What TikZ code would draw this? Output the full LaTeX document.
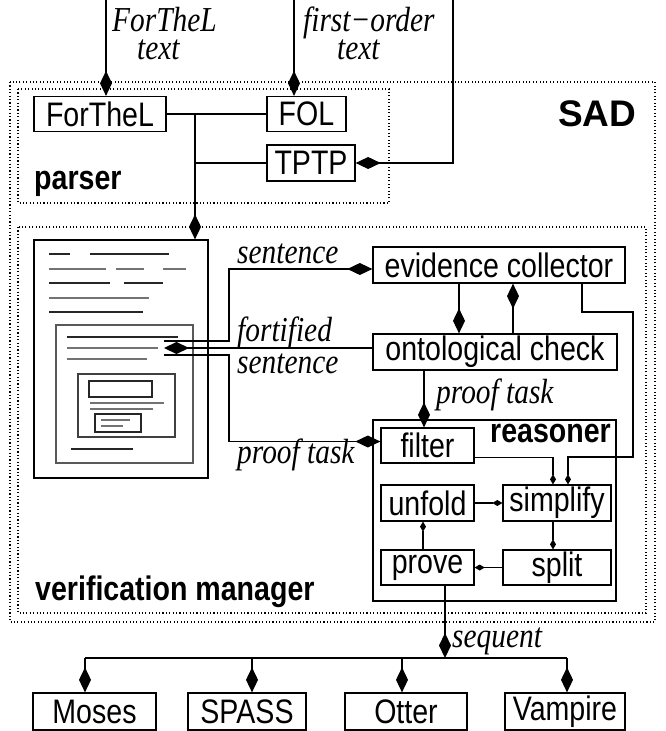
\documentclass[tikz,border=0pt]{standalone}
\usepackage{fontspec}
\setmainfont{Liberation Serif}
\newfontfamily\lsans{Liberation Sans}[FakeStretch=0.84]
\newfontfamily\lsanswide{Liberation Sans}
\newfontfamily\lserif{Liberation Serif}[FakeStretch=0.84]
\usetikzlibrary{arrows.meta,calc}
\tikzset{
  box/.style={draw, line width=1.3pt, inner sep=0pt, font=\lsans\fontsize{34}{36}\selectfont},
  frame/.style={draw, line width=1.3pt, inner sep=0pt},
  conn/.style={line width=1.5pt},
  thinconn/.style={line width=1.1pt},
  bigd/.style={-{Kite[length=25pt,width=12pt,inset=12.5pt]}},
  smalld/.style={-{Kite[length=10pt,width=6pt,inset=5pt]}},
  lbl/.style={font=\lserif\itshape\fontsize{35}{37}\selectfont, inner sep=0pt, anchor=base west},
  twolbl/.style={font=\lserif\itshape\fontsize{35}{28}\selectfont, inner sep=0pt, align=left, anchor=north west},
  blbl/.style={font=\lsans\bfseries\fontsize{34}{36}\selectfont, inner sep=0pt, anchor=base west},
  dotbox/.style={line width=1.1pt, dash pattern=on 1.1pt off 2.3pt},
  dkl/.style={line width=1.1pt, black!85},
  ltl/.style={line width=1.1pt, black!55},
}
\begin{document}
\begin{tikzpicture}[x=1pt,y=-1pt]
\useasboundingbox (0,0) rectangle (665,731);

% dotted containers
\draw[dotbox] (10,82) rectangle (655,622);
\draw[dotbox] (18,89) rectangle (389,203);
\draw[dotbox] (18,227) rectangle (646,613);

% labels
\node[twolbl] (l1) at (112,7) {ForTheL\\\hspace*{25pt}text};
\node[twolbl] (l3) at (303,7) {first−order\\\hspace*{34pt}text};
\node[blbl, font=\lsanswide\bfseries\fontsize{37}{39}\selectfont] (sad) at (558,126) {SAD};
\node[blbl] (parserlbl) at (34,189) {parser};
\node[blbl] (vmlbl) at (35,600) {verification manager};
\node[blbl] (reaslbl) at (490,442) {reasoner};
\node[lbl] (s1) at (237,263) {sentence};
\node[lbl] (s2) at (237,341) {fortified};
\node[lbl] (s3) at (237,373) {sentence};
\node[lbl] (s4) at (237,463) {proof task};
\node[lbl] (s5) at (436,403) {proof task};
\node[lbl] (s6) at (452,647) {sequent};

% parser nodes
\node[box, minimum width=132pt, minimum height=35pt] (forthel) at (100,114) {ForTheL};
\node[box, minimum width=79pt, minimum height=35pt] (fol) at (306.5,114) {FOL};
\node[box, minimum width=88pt, minimum height=36pt] (tptp) at (311,163) {TPTP};

% document
\node[frame, minimum width=174pt, minimum height=238pt] (doc) at (121,359) {};
\draw[dkl] (49,254) -- (70,254) (90,254) -- (169,254);
\draw[ltl] (49,269) -- (106,269) (116,269) -- (144,269) (163,269) -- (186,269);
\draw[dkl] (49,283) -- (110,283) (124,283) -- (163,283);
\draw[ltl] (49,298) -- (149,298);
\draw[dkl] (49,312) -- (143,312);
\draw[line width=1.1pt, black!65] (56,325) rectangle (193,463);
\draw[dkl] (67,337) -- (178,337);
\draw[ltl] (67,348) -- (158,348);
\draw[ltl] (67,359) -- (147,359);
\draw[line width=1.1pt, black!75] (78,374) rectangle (175,437);
\draw[dkl] (89,381) rectangle (152,397);
\draw[ltl] (90,403) -- (164,403) (90,409) -- (153,409);
\draw[dkl] (95,414) rectangle (141,432);
\draw[ltl] (101,420) -- (130,420) (101,426) -- (123,426);
\draw[dkl] (71,449) -- (133,449);
\coordinate (d1) at (164,341);
\coordinate (d2) at (164,348);
\coordinate (d3) at (164,355);

% verification nodes
\node[box, minimum width=252pt, minimum height=36pt] (ec) at (499,265) {evidence collector};
\node[box, minimum width=244pt, minimum height=36pt] (oc) at (495,352) {ontological check};
\node[frame, minimum width=243pt, minimum height=181pt] (reas) at (494.5,510.5) {};
\node[box, minimum width=93pt, minimum height=35pt] (filter) at (427.5,445.5) {filter};
\node[box, minimum width=93pt, minimum height=36pt] (unfold) at (427.5,503) {unfold};
\node[box, minimum width=108pt, minimum height=36pt] (simplify) at (557,503) {simplify};
\node[box, minimum width=93pt, minimum height=35pt] (prove) at (427.5,567.5) {prove};
\node[box, minimum width=108pt, minimum height=35pt] (split) at (557,567.5) {split};

% provers
\node[box, minimum width=123pt, minimum height=37pt] (moses) at (94.5,711.5) {Moses};
\node[box, minimum width=118pt, minimum height=37pt] (spass) at (247,711.5) {SPASS};
\node[box, minimum width=122pt, minimum height=37pt] (otter) at (406,711.5) {Otter};
\node[box, minimum width=120pt, minimum height=37pt] (vampire) at (565,711.5) {Vampire};

% inputs
\coordinate (in1) at (106,0);
\coordinate (in2) at (294,0);
\coordinate (in3) at (453,0);
\draw[conn,bigd] (in1) -- (in1 |- forthel.north);
\draw[conn,bigd] (in2) -- (in2 |- fol.north);
\draw[conn,bigd] (in3) |- (tptp.east);
\draw[conn] (forthel.east) -- (fol.west);
\coordinate (j) at (195,114);
\draw[conn] (j |- tptp.west) -- (tptp.west);
\draw[conn,bigd] (j) -- (j |- doc.north);

% document <-> checks
\draw[conn,bigd] (d1) -- ($(d1)+(65,0)$) |- ([yshift=-4pt]ec.west);
\draw[conn,bigd] ([yshift=4pt]oc.west) -- (d2);
\draw[conn,bigd] (d3) -- ($(d3)+(65,0)$) |- ([yshift=4pt]filter.west);
\draw[conn,bigd] ([xshift=-40pt]ec.south) -- ([xshift=-40pt]ec.south |- oc.north);
\draw[conn,bigd] ([xshift=18pt]oc.north) -- ([xshift=18pt]oc.north |- ec.south);
\draw[conn,bigd] ([xshift=-71pt]oc.south) -- ([xshift=-71pt]oc.south |- filter.north);

% evidence collector to simplify
\coordinate (r1) at (633,312);
\coordinate (r2) at (633,457);
\draw[thinconn,smalld] ([xshift=83pt]ec.south) |- (r1) -- (r2) -| ([xshift=11pt]simplify.north);

% reasoner internals
\draw[thinconn,smalld] ([yshift=6pt]filter.south east) -| ([xshift=-4pt]simplify.north);
\draw[thinconn,smalld] (unfold.east) -- (simplify.west);
\draw[thinconn,smalld] ([xshift=-4pt]simplify.south) -- ([xshift=-4pt]split.north);
\draw[thinconn,smalld] (split.west) -- (prove.east);
\draw[thinconn,smalld] ([xshift=-4.5pt]prove.north) -- ([xshift=-4.5pt]unfold.south);

% sequent distribution
\coordinate (bar) at (445,658);
\coordinate (bl) at (85,658);
\coordinate (br) at (567,658);
\coordinate (b2) at (252,658);
\coordinate (b3) at (402,658);
\draw[conn,bigd] ([xshift=17.5pt]prove.south) -- (bar);
\draw[conn] (bl) -- (br);
\draw[conn,bigd] (bl) -- (bl |- moses.north);
\draw[conn,bigd] (b2) -- (b2 |- spass.north);
\draw[conn,bigd] (b3) -- (b3 |- otter.north);
\draw[conn,bigd] (br) -- (br |- vampire.north);
\end{tikzpicture}
\end{document}
